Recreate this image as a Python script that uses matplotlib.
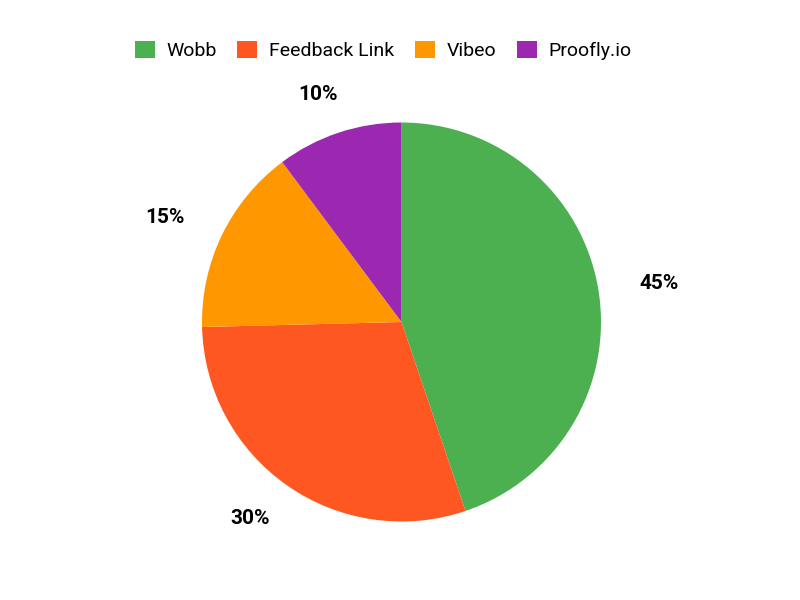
import matplotlib
matplotlib.use("Agg")
import numpy as np
import matplotlib.pyplot as plt
from matplotlib.patches import Patch

plt.rcParams['font.family'] = ['Roboto', 'DejaVu Sans']

labels = ["Wobb", "Feedback Link", "Vibeo", "Proofly.io"]
values = [44.8, 29.8, 15.2, 10.2]
pct_labels = ["45%", "30%", "15%", "10%"]
colors = ["#4caf50", "#ff5722", "#ff9800", "#9c27b0"]

W, H = 800, 600
cx, cy, R = 401.5, H - 322, 199.5

fig = plt.figure(figsize=(8, 6), dpi=100)
ax = fig.add_axes([0, 0, 1, 1])

wedges, _ = ax.pie(values, colors=colors, startangle=90, counterclock=False,
                   center=(cx, cy), radius=R,
                   wedgeprops=dict(linewidth=0))

ax.set_xlim(0, W)
ax.set_ylim(0, H)
ax.set_aspect('equal')
ax.axis('off')

# percentage labels outside the pie, anchored at 1.2 R and pushed out horizontally
renderer = fig.canvas.get_renderer()
lx = cx - 1.0
for w, lab in zip(wedges, pct_labels):
    mid = np.deg2rad((w.theta1 + w.theta2) / 2)
    ux, uy = np.cos(mid), np.sin(mid)
    t = ax.text(0, 0, lab, fontsize=15, fontweight='bold', color='black',
                ha='center', va='center')
    bb = t.get_window_extent(renderer)
    hw = bb.width / 2
    r0 = 1.2 * R
    t.set_position((lx + ux * (r0 + 1.15 * hw), cy + uy * r0))

handles = [Patch(facecolor=c, edgecolor='none', label=l) for c, l in zip(colors, labels)]
fs = 14
fpx = fs * 100 / 72
fig.legend(handles=handles, loc='center left', bbox_to_anchor=(134.7 / W, 1 - 50.3 / H), ncol=4,
           frameon=False, fontsize=fs, handlelength=20 / fpx, handleheight=20 / fpx,
           handletextpad=12 / fpx, columnspacing=20.3 / fpx, borderaxespad=0, borderpad=0)

fig.savefig("out.png", dpi=100)
